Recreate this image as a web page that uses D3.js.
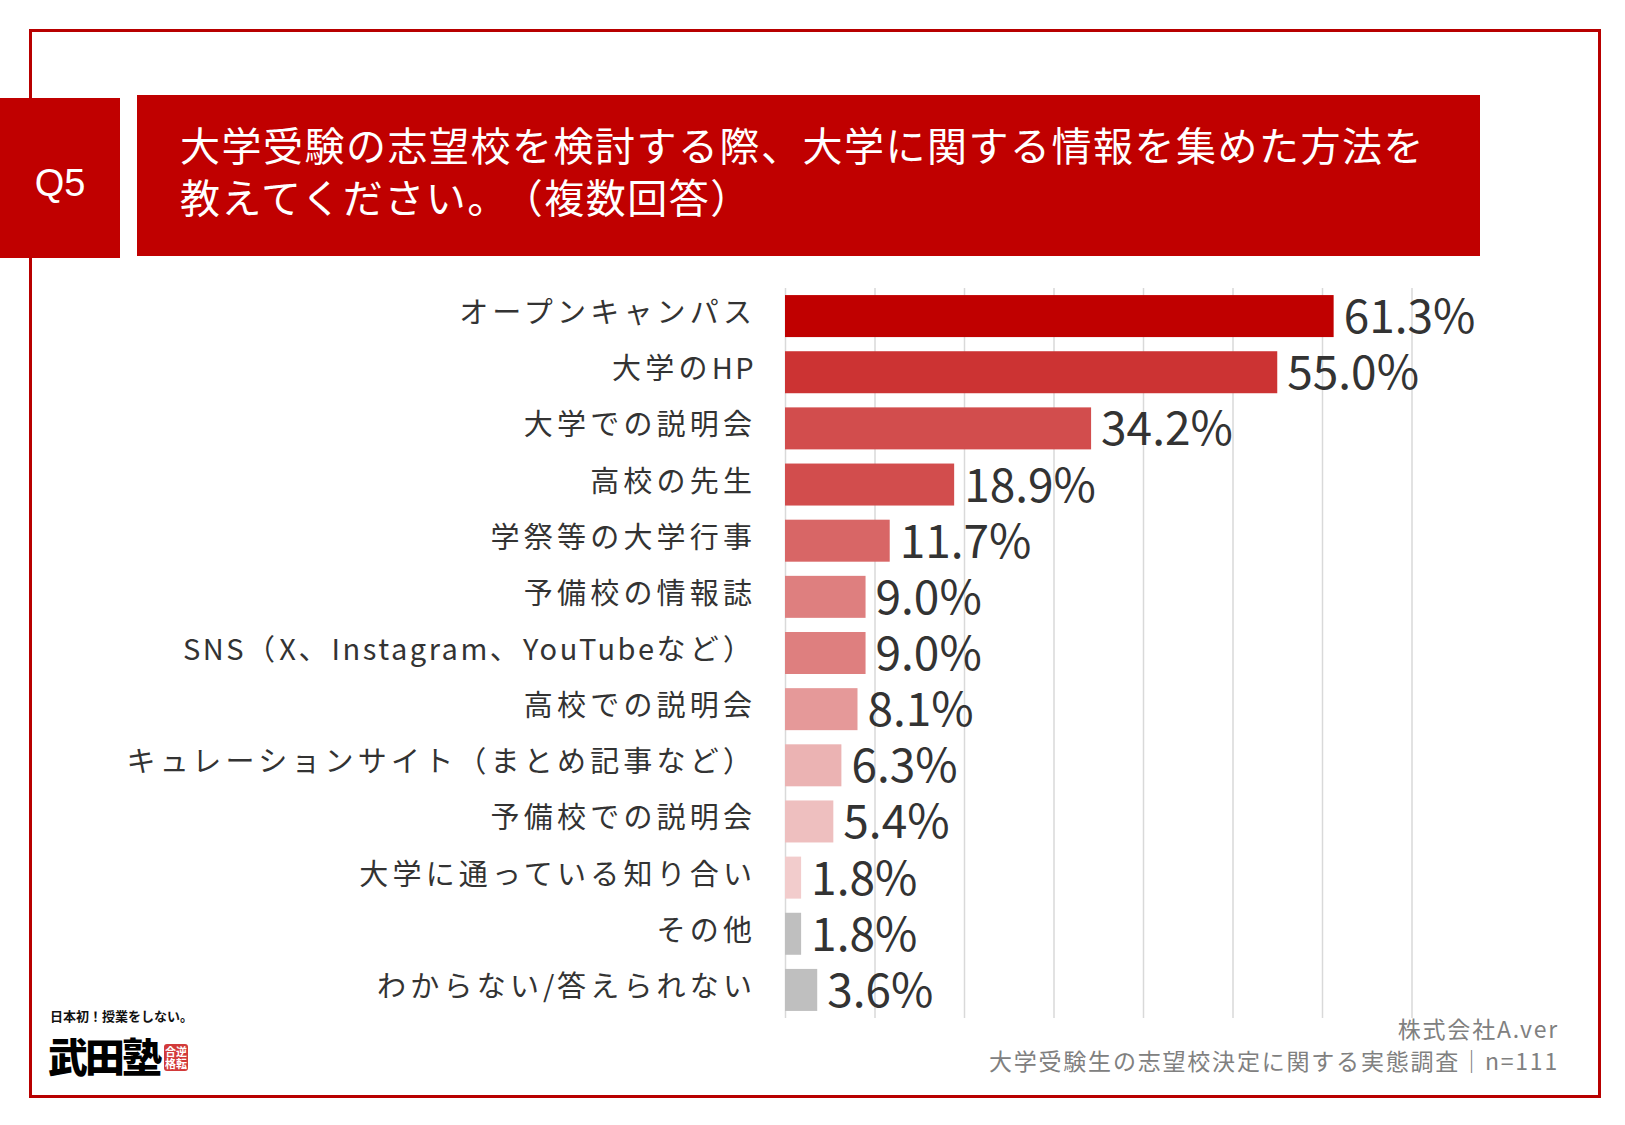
<!DOCTYPE html>
<html>
<head>
<meta charset="utf-8">
<script src="https://cdn.jsdelivr.net/npm/d3@7"></script>
<style>
  body { margin: 0; background: #fff; }
  svg { display: block; }
  text { font-family: "Noto Sans CJK JP", "Noto Sans", sans-serif; }
</style>
</head>
<body>
<div class="chart"></div>
<script>
// data
var categories = [
  "オープンキャンパス",
  "大学のHP",
  "大学での説明会",
  "高校の先生",
  "学祭等の大学行事",
  "予備校の情報誌",
  "SNS（X、Instagram、YouTubeなど）",
  "高校での説明会",
  "キュレーションサイト（まとめ記事など）",
  "予備校での説明会",
  "大学に通っている知り合い",
  "その他",
  "わからない/答えられない"
];
var values = [61.3, 55.0, 34.2, 18.9, 11.7, 9.0, 9.0, 8.1, 6.3, 5.4, 1.8, 1.8, 3.6];
var barColors = ["#c00000", "#cc3333", "#d24d4d", "#d24d4d", "#d86666", "#de7f7f", "#de7f7f",
                 "#e59999", "#ebb3b3", "#eebfbf", "#f2cccc", "#bfbfbf", "#bfbfbf"];
var gridTicks = [0, 10, 20, 30, 40, 50, 60, 70];
// each title line is a list of pieces; later pieces get a small gap before them
var titleLines = [["大学受験の志望校を検討する際、大学に関する情報を集めた方法を"], ["教えてください。", "（複数回答）"]];
var footLines = ["株式会社A.ver", "大学受験生の志望校決定に関する実態調査｜n=111"];

document.addEventListener('DOMContentLoaded', function () {
  var W = 1625, H = 1125;
  var red = "#c00000";

  var svg = d3.select('div.chart').append('svg')
      .attr('width', W)
      .attr('height', H);

  svg.append('rect').attr('width', W).attr('height', H).attr('fill', '#fff');

  // frame
  svg.append('rect')
    .attr('x', 30.5).attr('y', 30.5)
    .attr('width', 1569).attr('height', 1066)
    .attr('fill', 'none')
    .attr('stroke', '#b80000')
    .attr('stroke-width', 3);

  // header boxes
  svg.append('rect').attr('x', 0).attr('y', 98).attr('width', 120).attr('height', 160).attr('fill', red);
  svg.append('rect').attr('x', 137).attr('y', 95).attr('width', 1343).attr('height', 161).attr('fill', red);

  svg.append('text')
    .attr('x', 60).attr('y', 196)
    .attr('text-anchor', 'middle')
    .style('font-family', '"Liberation Sans", Arial, sans-serif')
    .style('font-size', '38px')
    .attr('fill', '#fff')
    .text('Q5');

  var titles = svg.selectAll('text.title')
    .data(titleLines)
    .enter().append('text')
    .attr('class', 'title')
    .attr('x', 180)
    .attr('y', function (d, i) { return 161 + i * 52; })
    .style('font-size', '40px')
    .style('letter-spacing', '1.5px')
    .attr('fill', '#fff');
  titles.selectAll('tspan')
    .data(function (d) { return d; })
    .enter().append('tspan')
    .attr('dx', function (d, i) { return i > 0 ? 14 : 0; })
    .text(function (d) { return d; });

  // scales
  var xScale = d3.scaleLinear().domain([0, 70]).range([785, 1411.5]);
  var yScale = d3.scaleBand()
      .domain(categories)
      .range([288, 1018])
      .paddingInner(0.252)
      .paddingOuter(0.126);

  // grid
  var grid = d3.axisTop(xScale)
      .tickValues(gridTicks)
      .tickSize(-(1018 - 288))
      .tickFormat('');
  var grid_g = svg.append('g')
      .attr('class', 'grid')
      .attr('transform', 'translate(0,288)')
      .call(grid);
  grid_g.select('.domain').remove();
  grid_g.selectAll('line').attr('stroke', '#d9d9d9').attr('stroke-width', 1.5);

  // bars
  svg.selectAll('rect.bar')
    .data(values)
    .enter()
    .append('rect')
    .attr('class', 'bar')
    .attr('x', xScale(0))
    .attr('y', function (d, i) { return yScale(categories[i]); })
    .attr('width', function (d) { return xScale(d) - xScale(0); })
    .attr('height', yScale.bandwidth())
    .attr('fill', function (d, i) { return barColors[i]; });

  // category labels: latin runs get tighter spacing than kana/kanji
  var cjkSpacing = 4.2, latinSpacing = 2.5;
  var cats = svg.selectAll('text.cat')
    .data(categories)
    .enter().append('text')
    .attr('class', 'cat')
    .attr('x', 752 + cjkSpacing)
    .attr('y', function (d) { return yScale(d) + yScale.bandwidth() / 2 + 7; })
    .attr('text-anchor', 'end')
    .style('font-size', '29px')
    .attr('fill', '#333');
  cats.each(function (d) {
    var runs = d.match(/[A-Za-z\/]+|[^A-Za-z\/]+/g);
    var t = d3.select(this);
    runs.forEach(function (r) {
      var latin = /^[A-Za-z\/]/.test(r);
      t.append('tspan')
        .style('letter-spacing', (latin ? latinSpacing : cjkSpacing) + 'px')
        .text(r);
    });
  });

  // value labels
  svg.selectAll('text.val')
    .data(values)
    .enter().append('text')
    .attr('class', 'val')
    .attr('x', function (d) { return xScale(d) + 10; })
    .attr('y', function (d, i) { return yScale(categories[i]) + yScale.bandwidth() / 2 + 17; })
    .style('font-size', '46px')
    .attr('fill', '#333')
    .text(function (d) { return d.toFixed(1) + '%'; });

  // footnote
  svg.selectAll('text.foot')
    .data(footLines)
    .enter().append('text')
    .attr('class', 'foot')
    .attr('x', 1559)
    .attr('y', function (d, i) { return 1038 + i * 32; })
    .attr('text-anchor', 'end')
    .style('font-size', '23px')
    .style('letter-spacing', '1.8px')
    .attr('fill', '#808080')
    .text(function (d) { return d; });

  // logo
  var logo = svg.append('g').attr('class', 'logo');
  logo.append('text')
    .attr('x', 50).attr('y', 1021)
    .style('font-size', '13px')
    .style('font-weight', 700)
    .attr('fill', '#111')
    .text('日本初！授業をしない。');
  logo.append('text')
    .attr('x', 48).attr('y', 1072)
    .style('font-size', '40px')
    .style('font-weight', 900)
    .style('letter-spacing', '-3px')
    .attr('fill', '#000')
    .text('武田塾');
  logo.append('rect')
    .attr('x', 164).attr('y', 1044)
    .attr('width', 24).attr('height', 27)
    .attr('rx', 3)
    .attr('fill', '#d23a3a');
  logo.append('text')
    .attr('x', 176).attr('y', 1056)
    .attr('text-anchor', 'middle')
    .style('font-size', '11px')
    .style('font-weight', 700)
    .attr('fill', '#fff')
    .text('合逆');
  logo.append('text')
    .attr('x', 176).attr('y', 1068)
    .attr('text-anchor', 'middle')
    .style('font-size', '11px')
    .style('font-weight', 700)
    .attr('fill', '#fff')
    .text('格転');
});
</script>
</body>
</html>
